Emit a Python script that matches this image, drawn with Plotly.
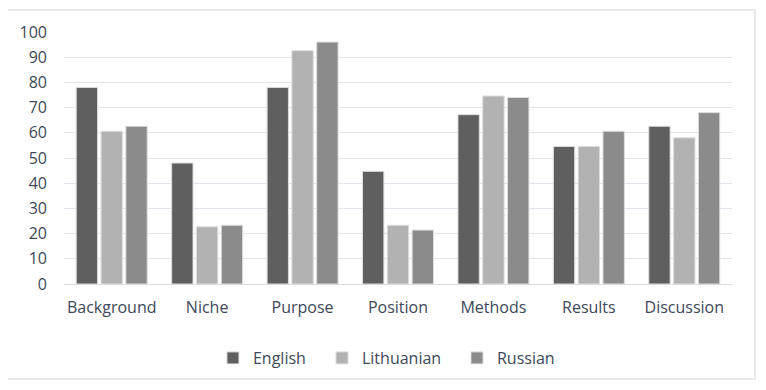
import plotly.graph_objects as go

categories = ["Background", "Niche", "Purpose", "Position", "Methods", "Results", "Discussion"]
english = [78, 48, 78, 44.7, 67.2, 54.6, 62.6]
lithuanian = [60.6, 22.7, 92.6, 23.3, 74.6, 54.6, 58]
russian = [62.6, 23.3, 96, 21.4, 74, 60.6, 68]
series_names = ["English", "Lithuanian", "Russian"]
y_ticks = [0, 10, 20, 30, 40, 50, 60, 70, 80, 90, 100]

colors = ["#5f5f5f", "#b2b2b2", "#8b8b8b"]
font_family = "Open Sans, Noto Sans, sans-serif"
text_color = "#404859"
legend_ids = ["legend", "legend2", "legend3"]
legend_x = [0.2230, 0.3862, 0.5883]

fig = go.Figure()
for name, vals, col, lid in zip(series_names, [english, lithuanian, russian], colors, legend_ids):
    fig.add_trace(go.Bar(
        x=categories, y=vals, name=name, legend=lid,
        marker=dict(color=col, line=dict(color="#dcdcdc", width=1)),
    ))

legend_common = dict(orientation="h", xanchor="left", y=-0.2937, yanchor="middle",
                     font=dict(size=16, color=text_color), itemwidth=30,
                     bgcolor="rgba(0,0,0,0)")

fig.update_layout(
    width=758, height=382,
    margin=dict(l=56, r=34, t=24, b=106),
    paper_bgcolor="white", plot_bgcolor="white",
    barmode="group", bargap=0.22, bargroupgap=0.14,
    font=dict(family=font_family, color=text_color, size=15),
    showlegend=True,
    legend=dict(x=legend_x[0], **legend_common),
    legend2=dict(x=legend_x[1], **legend_common),
    legend3=dict(x=legend_x[2], **legend_common),
    shapes=[dict(type="rect", xref="paper", yref="paper",
                 x0=-0.0883, x1=1.0344, y0=-0.377, y1=1.0873,
                 line=dict(color="#dfe2e6", width=1.5), layer="below")],
)
fig.update_yaxes(range=[0, 100], tickvals=y_ticks, showgrid=True, gridcolor="#e1e4ea",
                 gridwidth=1.2, zeroline=False, showline=False, ticks="",
                 tickfont=dict(size=16, color=text_color), ticklabelstandoff=16)
fig.update_xaxes(showline=True, linecolor="#d9dce2", linewidth=1.2, ticks="",
                 tickfont=dict(size=16, color=text_color), ticklabelstandoff=9)

fig.write_html("out.html")
